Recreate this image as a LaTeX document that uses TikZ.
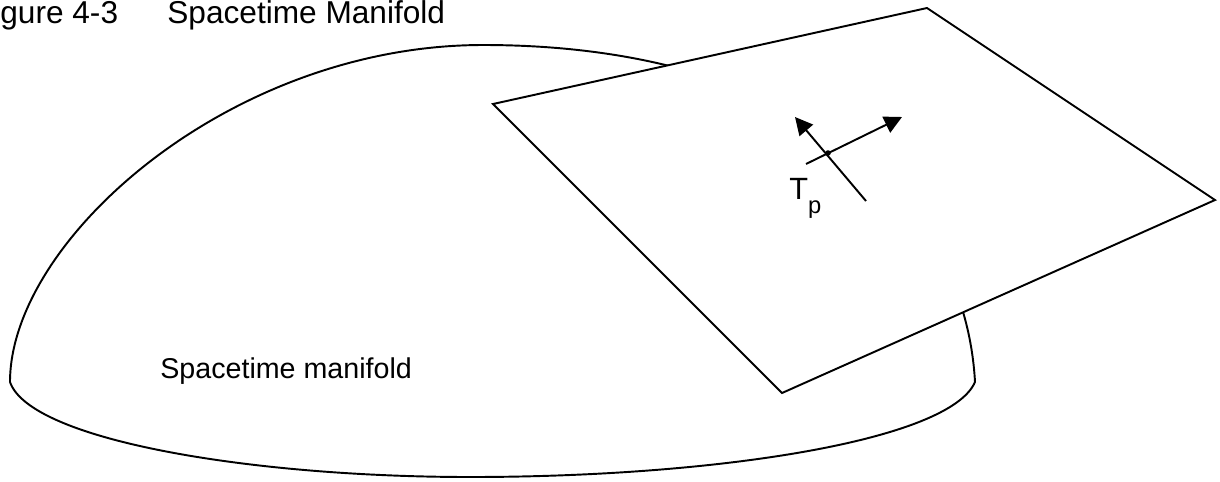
\documentclass[tikz,border=0pt]{standalone}
\usepackage{fontspec}
\setmainfont{Liberation Sans}
\usetikzlibrary{arrows.meta}

\begin{document}
\begin{tikzpicture}[x=0.02cm, y=-0.02cm,
    outline/.style={black, line width=1.1pt, line join=miter},
    vec/.style={black, line width=1.1pt, -{Triangle[length=10pt, width=10pt]}},
    lbl/.style={inner sep=0pt, anchor=base west, font=\fontsize{16.3}{19}\selectfont}]
    \useasboundingbox (0,0) rectangle (1220,481);

    % Title
    \node[lbl, font=\fontsize{18}{21}\selectfont] (fignum) at (0,23) {gure 4-3};
    \node[lbl, font=\fontsize{18}{21}\selectfont] (title) at (167,23) {Spacetime Manifold};

    % Manifold (dome)
    \filldraw[outline, fill=white] (10,382) .. controls (10,240) and (230,45) .. (483,45)
        .. controls (800,45) and (965,200) .. (975,382)
        .. controls (950,440) and (720,477) .. (470,477)
        .. controls (250,477) and (30,440) .. (10,382) -- cycle;
    \node[lbl] (manifold) at (160,378) {Spacetime manifold};

    % Tangent plane
    \filldraw[outline, fill=white] (493,104) -- (927,8) -- (1215,200) -- (782,393) -- cycle;

    % Tangent vectors at p
    \coordinate (p) at (828,153);
    \coordinate (ua) at (866,201);
    \coordinate (ub) at (795,117);
    \coordinate (va) at (806,164);
    \coordinate (vb) at (902,117);
    \draw[vec] (ua) -- (ub);
    \draw[vec] (va) -- (vb);
    \fill (p) circle (1.6pt);

    % Label
    \node[lbl, font=\fontsize{17.5}{20}\selectfont] (tp) at (789,199)
        {T\raisebox{-8.4pt}{\fontsize{13.5}{15}\selectfont p}};
\end{tikzpicture}
\end{document}
